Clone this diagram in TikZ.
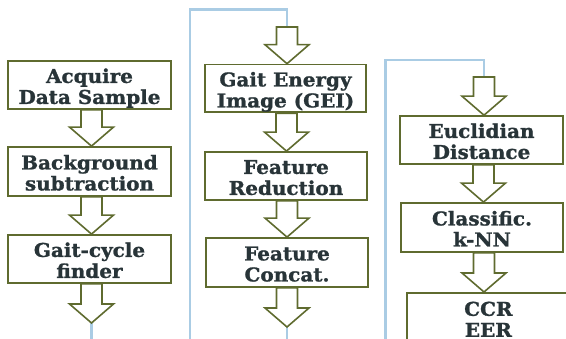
\documentclass[tikz,border=0pt]{standalone}
\usepackage{fontspec}
\setmainfont{DejaVu Serif}[FakeStretch=1.05, BoldFeatures={FakeBold=1.2}]
\usetikzlibrary{calc}
\definecolor{olivebd}{RGB}{95,107,47}
\definecolor{txt}{RGB}{40,52,56}
\definecolor{lblue}{RGB}{170,204,228}
\tikzset{
  box/.style={draw=olivebd, line width=1.8pt, fill=white, text=txt,
    font=\fontsize{19}{21}\selectfont\bfseries, align=center, inner sep=0pt},
  blockarr/.style={draw=olivebd, line width=1.6pt, fill=white, line join=miter},
  link/.style={draw=lblue, line width=2.6pt},
}
\newcommand\twolines[2]{\rule{0pt}{21.8pt}#1\\#2\rule[-5pt]{0pt}{5pt}}
\newcommand\blockarrow[2]{%
  \path[blockarr] let \p1=(#1), \p2=(#2) in
    (\x1-10.5pt,\y1) -- (\x1-10.5pt,\y2+19pt) -- (\x1-22pt,\y2+19pt) --
    (\x1,\y2) -- (\x1+22pt,\y2+19pt) -- (\x1+10.5pt,\y2+19pt) --
    (\x1+10.5pt,\y1) -- cycle;}
\begin{document}
\begin{tikzpicture}[x=1pt,y=-1pt]
\useasboundingbox (0,0) rectangle (566,339);
\clip (0,0) rectangle (566,339);
% coordinates
\coordinate (a3end) at (91.5,323);
\coordinate (a3bot) at (91.5,339);
\coordinate (l1a) at (190,339);
\coordinate (l1b) at (190,9.5);
\coordinate (l1c) at (287,9.5);
\coordinate (b0) at (287,27);
\coordinate (b3end) at (287,327);
\coordinate (b3bot) at (287,339);
\coordinate (l2a) at (385.5,339);
\coordinate (l2b) at (385.5,60);
\coordinate (l2c) at (484,60);
\coordinate (c0) at (484,77);
% links
\draw[link] (a3end) -- (a3bot);
\draw[link] (l1a) -- (l1b) -- (l1c) -- (b0);
\draw[link] (b3end) -- (b3bot);
\draw[link] (l2a) -- (l2b) -- (l2c) -- (c0);
% boxes
\node[box, minimum width=163pt, minimum height=48pt] (a1) at (89.5,85) {\twolines{Acquire}{Data Sample}};
\node[box, minimum width=163pt, minimum height=49pt] (a2) at (89.5,171.5) {\twolines{Background}{subtraction}};
\node[box, minimum width=163pt, minimum height=48pt] (a3) at (89.5,259) {\twolines{Gait-cycle}{finder}};
\node[box, minimum width=161pt, minimum height=47pt] (b1) at (285.5,88.5) {\twolines{Gait Energy}{Image (GEI)}};
\node[box, minimum width=162pt, minimum height=48pt] (b2) at (286,176) {\twolines{Feature}{Reduction}};
\node[box, minimum width=162pt, minimum height=49pt] (b3) at (287,262.5) {\twolines{Feature}{Concat.}};
\node[box, minimum width=163pt, minimum height=46pt] (c1) at (481.5,140) {\twolines{Euclidian}{Distance}};
\node[box, minimum width=162pt, minimum height=49pt] (c2) at (482,227.5) {\twolines{Classific.}{k-NN}};
\node[box, minimum width=163pt, minimum height=50pt, anchor=north west] (c3) at (406,292) {\twolines{CCR}{EER}};
% block arrows
\blockarrow{$(a1.south)+(2,0)$}{a2.north}
\blockarrow{$(a2.south)+(2,0)$}{a3.north}
\blockarrow{$(a3.south)+(2,0)$}{a3end}
\blockarrow{b0}{b1.north}
\blockarrow{$(b1.south)+(1,0)$}{b2.north}
\blockarrow{$(b2.south)+(1,0)$}{b3.north}
\blockarrow{b3.south}{b3end}
\blockarrow{c0}{c1.north}
\blockarrow{$(c1.south)+(2,0)$}{c2.north}
\blockarrow{$(c2.south)+(2,0)$}{c3.north}
\end{tikzpicture}
\end{document}
